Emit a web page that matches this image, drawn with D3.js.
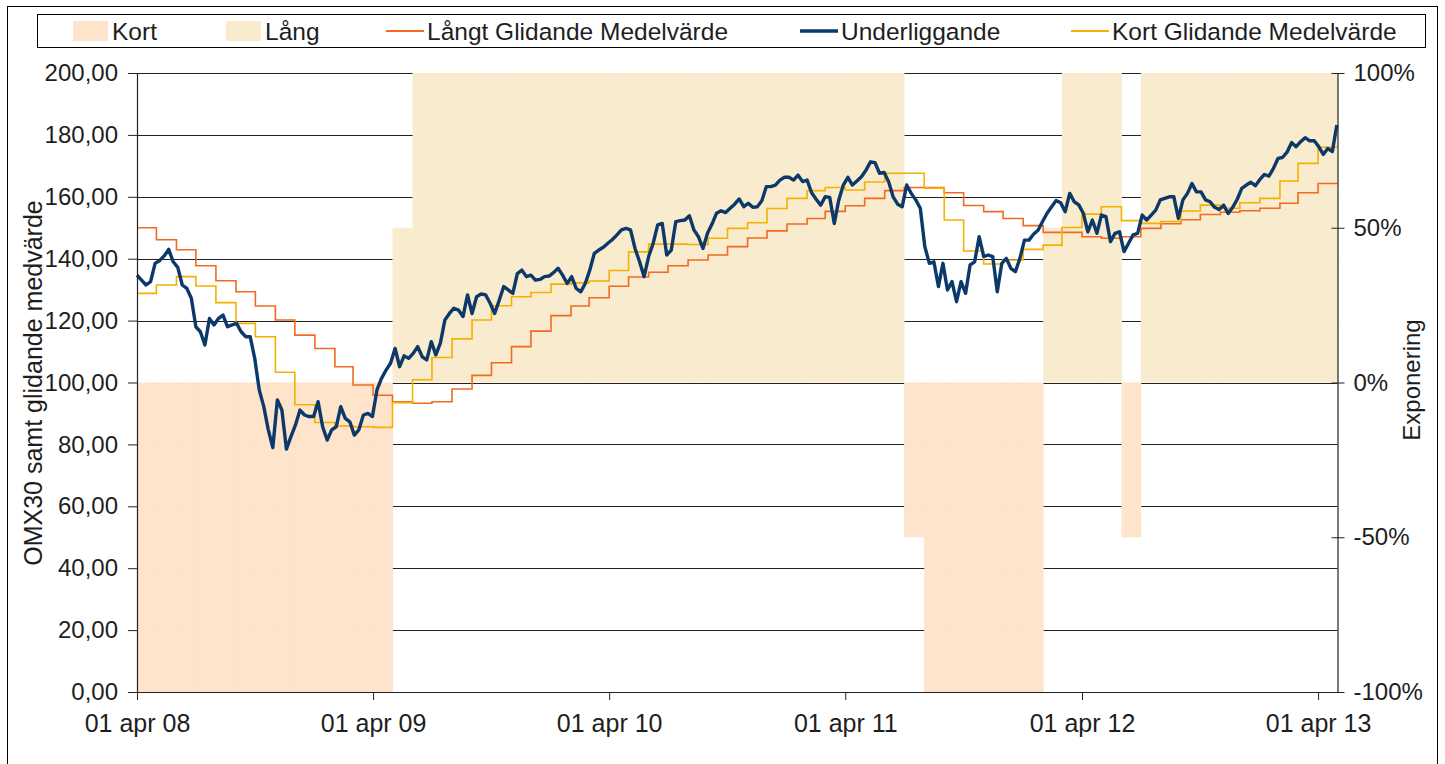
<!DOCTYPE html>
<html>
<head>
<meta charset="utf-8">
<script src="https://cdn.jsdelivr.net/npm/d3@7"></script>
<style>
  body { margin: 0; background: #fff; }
  text { font-family: "Liberation Sans", Arial, sans-serif; fill: #1e1e1e; }
</style>
</head>
<body>
<div id="chart"></div>
<script>
const width = 1445;
const height = 764;

// månadsdata apr 2008 - apr 2013
const monthStart = new Date(2008, 3, 1);
const monthEnd = new Date(2013, 4, 1);

// Långt glidande medelvärde (ett värde per månad)
const longMA = [
  150.0, 146.1, 142.9, 137.7, 132.9, 129.3, 124.7, 120.2, 115.3,
  111.0, 105.1, 99.2, 95.9, 93.8, 93.3, 93.8, 97.9, 102.3, 106.4, 111.6, 116.6,
  121.6, 124.7, 127.4, 131.1, 134.1, 135.6, 137.7, 139.6, 141.2, 143.9, 146.7, 149.0,
  151.2, 153.0, 155.3, 157.1, 159.5, 162.0, 163.0, 163.0, 161.3, 157.2, 155.2, 153.0,
  150.7, 148.5, 148.5, 147.1, 146.6, 147.1, 149.8, 151.3, 152.6, 154.3, 155.0, 155.5,
  156.3, 157.9, 161.3, 164.3
];

// Kort glidande medelvärde
const shortMA = [
  128.8, 131.5, 134.2, 131.2, 125.8, 119.1, 114.8, 103.3, 92.8,
  87.1, 86.0, 85.7, 85.5, 93.5, 100.9, 108.1, 114.1, 120.2, 124.8, 127.7, 129.1,
  131.8, 132.2, 132.8, 136.2, 142.2, 144.7, 144.7, 144.6, 146.6, 149.8, 151.6, 156.2,
  159.5, 162.0, 163.0, 162.2, 164.8, 167.6, 167.6, 162.8, 152.5, 142.5, 138.3, 139.6,
  143.0, 144.4, 150.1, 154.4, 156.8, 152.3, 151.4, 152.0, 155.4, 157.3, 156.3, 158.1,
  159.5, 165.1, 170.8, 176.0
];

// Exponering i procent
const exposure = [
  -100, -100, -100, -100, -100, -100, -100, -100, -100,
  -100, -100, -100, -100, 50, 100, 100, 100, 100, 100, 100, 100,
  100, 100, 100, 100, 100, 100, 100, 100, 100, 100, 100, 100,
  100, 100, 100, 100, 100, 100, -50, -100, -100, -100, -100, -100,
  -100, 50, 100, 100, 100, -50, 100, 100, 100, 100, 100, 100,
  100, 100, 100, 100
];

// OMX30 underliggande, veckovärden från 1 apr 2008
const omxWeekly = [
  134.7, 133.1, 131.5, 132.6, 138.5, 139.4, 140.9, 143.0, 139.0, 137.2,
  131.5, 130.4, 127.2, 118.0, 116.4, 112.1, 120.7, 118.6, 120.7, 121.8,
  118.0, 118.6, 119.1, 116.4, 114.8, 114.8, 107.8, 97.6, 92.2, 84.7,
  79.0, 94.4, 91.1, 78.5, 82.5, 86.3, 91.1, 89.5, 89.0, 89.0,
  93.8, 85.7, 81.4, 84.7, 85.7, 92.2, 88.4, 87.3, 83.0, 84.7,
  89.5, 90.0, 89.0, 97.6, 101.3, 104.0, 106.2, 111.0, 105.1, 108.6,
  107.8, 109.4, 111.6, 108.3, 107.3, 113.2, 108.9, 112.7, 120.2, 122.3,
  124.0, 123.4, 121.3, 128.3, 122.3, 127.7, 128.6, 128.3, 125.6, 122.3,
  126.6, 131.0, 129.9, 128.8, 135.2, 136.3, 134.2, 134.7, 133.1, 133.3,
  134.2, 134.4, 135.5, 136.9, 134.7, 132.0, 134.2, 130.4, 129.3, 132.0,
  136.3, 141.7, 142.8, 143.7, 145.0, 146.2, 147.7, 149.3, 149.8, 149.3,
  143.3, 139.0, 134.2, 140.7, 145.0, 150.9, 151.4, 141.2, 142.8, 152.0,
  152.3, 152.5, 153.9, 149.3, 147.1, 143.3, 148.2, 151.2, 154.7, 155.5,
  154.9, 156.3, 157.6, 159.3, 156.8, 157.9, 156.6, 156.8, 158.7, 163.3,
  163.3, 163.8, 165.4, 166.3, 166.3, 165.4, 167.0, 164.9, 165.4, 161.3,
  159.2, 157.3, 160.0, 159.8, 151.4, 159.0, 163.8, 166.3, 163.8, 165.1,
  166.5, 168.6, 171.3, 171.0, 167.6, 167.9, 164.9, 160.0, 157.6, 156.8,
  163.8, 161.1, 159.0, 156.3, 143.9, 138.5, 139.0, 131.0, 138.5, 129.9,
  132.6, 126.1, 132.6, 128.8, 138.0, 139.0, 147.1, 140.7, 141.2, 140.7,
  129.3, 138.5, 140.1, 136.9, 135.8, 140.1, 146.0, 146.0, 147.9, 149.2,
  152.0, 154.7, 156.8, 158.8, 158.1, 155.2, 161.1, 158.4, 157.4, 154.7,
  148.7, 152.5, 148.2, 154.1, 153.6, 145.5, 148.2, 148.7, 142.3, 145.0,
  147.7, 148.2, 154.1, 152.5, 154.1, 155.7, 159.0, 159.5, 160.0, 160.0,
  153.0, 159.0, 161.1, 164.3, 161.6, 161.6, 159.0, 158.4, 156.6, 155.9,
  157.3, 154.6, 156.6, 159.2, 162.7, 163.8, 164.7, 163.6, 165.6, 167.2,
  166.7, 169.2, 172.4, 172.7, 174.4, 177.5, 176.2, 177.8, 179.1, 178.1,
  178.1, 176.2, 173.7, 175.6, 174.6, 183.2
];

const leftTicks = [0, 20, 40, 60, 80, 100, 120, 140, 160, 180, 200];
const rightTicks = [-100, -50, 0, 50, 100];
const xTickYears = [2008, 2009, 2010, 2011, 2012, 2013];

const colors = {
  kort: "#fde4cb",
  lang: "#f9ebcd",
  longMA: "#f26a21",
  shortMA: "#f5b000",
  omx: "#0c386a"
};

const margin = { left: 137, right: 1337.5, top: 73, bottom: 692 };

const months = d3.timeMonth.range(monthStart, monthEnd);

const x = d3.scaleTime().domain([monthStart, monthEnd]).range([margin.left, margin.right]);
const yLeft = d3.scaleLinear().domain([0, 200]).range([margin.bottom, margin.top]);
const yRight = d3.scaleLinear().domain([-100, 100]).range([margin.bottom, margin.top]);

const numLocale = d3.formatLocale({ decimal: ",", thousands: " ", grouping: [3], currency: ["", " kr"], minus: "-" });
const timeLocale = d3.timeFormatLocale({
  dateTime: "%A %e %B %Y %X", date: "%Y-%m-%d", time: "%H:%M:%S",
  periods: ["fm", "em"],
  days: ["söndag", "måndag", "tisdag", "onsdag", "torsdag", "fredag", "lördag"],
  shortDays: ["sön", "mån", "tis", "ons", "tor", "fre", "lör"],
  months: ["januari", "februari", "mars", "april", "maj", "juni", "juli", "augusti", "september", "oktober", "november", "december"],
  shortMonths: ["jan", "feb", "mar", "apr", "maj", "jun", "jul", "aug", "sep", "okt", "nov", "dec"]
});

const svg = d3.select("#chart").append("svg")
  .attr("width", width)
  .attr("height", height);

// ram
svg.append("rect")
  .attr("x", 7.5).attr("y", 6.5)
  .attr("width", 1430).attr("height", 780)
  .attr("fill", "#fff").attr("stroke", "#000").attr("stroke-width", 1);

// rutnät
svg.append("g")
  .selectAll("line")
  .data(leftTicks.filter(d => d > 0))
  .enter().append("line")
  .attr("x1", margin.left).attr("x2", margin.right)
  .attr("y1", d => Math.round(yLeft(d)) + 0.5)
  .attr("y2", d => Math.round(yLeft(d)) + 0.5)
  .attr("stroke", "#222").attr("stroke-width", 1);

// exponering
svg.append("g")
  .selectAll("rect")
  .data(months.map((m, i) => ({ start: m, end: d3.timeMonth.offset(m, 1), value: exposure[i] })))
  .enter().append("rect")
  .attr("x", d => x(d.start))
  .attr("width", d => x(d.end) - x(d.start) + 0.4)
  .attr("y", d => Math.min(yRight(d.value), yRight(0)))
  .attr("height", d => Math.abs(yRight(d.value) - yRight(0)))
  .attr("fill", d => d.value < 0 ? colors.kort : colors.lang);

// glidande medelvärden
const stepLine = d3.line()
  .x(d => x(d[0]))
  .y(d => yLeft(d[1]))
  .curve(d3.curveStepAfter);

function stepPoints(values) {
  const pts = months.map((m, i) => [m, values[i]]);
  pts.push([monthEnd, values[values.length - 1]]);
  return pts;
}

svg.append("path")
  .datum(stepPoints(longMA))
  .attr("d", stepLine)
  .attr("fill", "none")
  .attr("stroke", colors.longMA)
  .attr("stroke-width", 1.6);

svg.append("path")
  .datum(stepPoints(shortMA))
  .attr("d", stepLine)
  .attr("fill", "none")
  .attr("stroke", colors.shortMA)
  .attr("stroke-width", 1.6);

// underliggande
const omxLine = d3.line()
  .x((d, i) => x(d3.timeDay.offset(monthStart, 7 * i)))
  .y(d => yLeft(d));

svg.append("path")
  .datum(omxWeekly)
  .attr("d", omxLine)
  .attr("fill", "none")
  .attr("stroke", colors.omx)
  .attr("stroke-width", 3.4)
  .attr("stroke-linejoin", "round");

// axlar
const leftAxis = svg.append("g")
  .attr("transform", `translate(${margin.left},0)`)
  .call(d3.axisLeft(yLeft).tickValues(leftTicks).tickSize(9).tickSizeOuter(0).tickPadding(10)
    .tickFormat(numLocale.format(".2f")));

const rightAxis = svg.append("g")
  .attr("transform", `translate(${margin.right},0)`)
  .call(d3.axisRight(yRight).tickValues(rightTicks).tickSize(7).tickSizeOuter(0).tickPadding(9)
    .tickFormat(d => numLocale.format("d")(d) + "%"));
rightAxis.selectAll(".tick line").attr("x1", -6);

const bottomAxis = svg.append("g")
  .attr("transform", `translate(0,${margin.bottom})`)
  .call(d3.axisBottom(x).tickValues(xTickYears.map(y => new Date(y, 3, 1))).tickSize(8).tickSizeOuter(0).tickPadding(14)
    .tickFormat(timeLocale.format("%d %b %y")));

[leftAxis, rightAxis, bottomAxis].forEach(g => {
  g.select(".domain").attr("stroke", "#222").attr("stroke-width", 1.2);
  g.selectAll(".tick line").attr("stroke", "#222");
  g.selectAll(".tick text")
    .style("font-family", "'Liberation Sans', Arial, sans-serif")
    .style("font-size", "24px")
    .attr("fill", "#1e1e1e");
});
bottomAxis.selectAll(".tick text").style("font-size", "25px");

// axeltitlar
svg.append("text")
  .attr("transform", "translate(42,383) rotate(-90)")
  .attr("text-anchor", "middle")
  .style("font-size", "25px")
  .text("OMX30 samt glidande medvärde");

svg.append("text")
  .attr("transform", "translate(1420,380) rotate(-90)")
  .attr("text-anchor", "middle")
  .style("font-size", "24px")
  .text("Exponering");

// förklaring
const legend = svg.append("g");
legend.append("rect")
  .attr("x", 37.5).attr("y", 14.5)
  .attr("width", 1388).attr("height", 33)
  .attr("fill", "#fff").attr("stroke", "#000");

const legendItems = [
  { label: "Kort", type: "rect", color: colors.kort, x: 73 },
  { label: "Lång", type: "rect", color: colors.lang, x: 226 },
  { label: "Långt Glidande Medelvärde", type: "line", color: colors.longMA, x: 386, w: 2 },
  { label: "Underliggande", type: "line", color: colors.omx, x: 800, w: 3.5 },
  { label: "Kort Glidande Medelvärde", type: "line", color: colors.shortMA, x: 1071, w: 2 }
];

const item = legend.selectAll(".item")
  .data(legendItems)
  .enter().append("g")
  .attr("class", "item")
  .attr("transform", d => `translate(${d.x},0)`);

item.filter(d => d.type === "rect").append("rect")
  .attr("x", 0).attr("y", 21).attr("width", 35).attr("height", 20)
  .attr("fill", d => d.color);

item.filter(d => d.type === "line").append("line")
  .attr("x1", 0).attr("x2", 38).attr("y1", 31).attr("y2", 31)
  .attr("stroke", d => d.color).attr("stroke-width", d => d.w);

item.append("text")
  .attr("x", d => d.type === "rect" ? 39 : 41)
  .attr("y", 40)
  .style("font-size", "24.5px")
  .text(d => d.label);
</script>
</body>
</html>
